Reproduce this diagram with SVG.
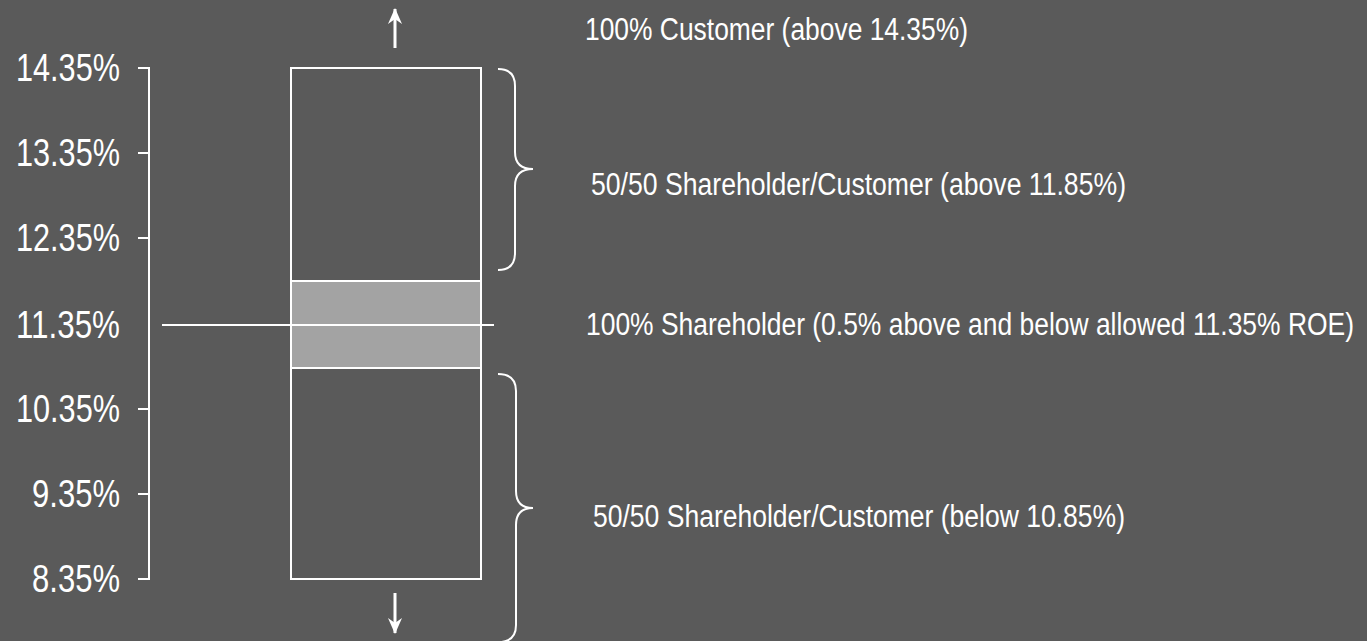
<svg xmlns="http://www.w3.org/2000/svg" width="1367" height="641" viewBox="0 0 1367 641">
  <style>
    .ln { stroke: #ffffff; stroke-width: 2; fill: none; }
    .arrow { stroke: #ffffff; stroke-width: 3; fill: none; }
    .ax { font-family: "Liberation Sans Narrow", "Liberation Sans", Arial, sans-serif; font-size: 38px; fill: #ffffff; text-anchor: end; }
    .lb { font-family: "Liberation Sans Narrow", "Liberation Sans", Arial, sans-serif; font-size: 31px; fill: #ffffff; }
  </style>
  <defs>
    <!-- arrowhead drawn pointing along +x so orient="auto" follows the line -->
    <marker id="head" viewBox="0 0 16 14" refX="15" refY="7" markerWidth="16" markerHeight="14" markerUnits="userSpaceOnUse" orient="auto">
      <path d="M16 7 L0 0 L5 7 L0 14 Z" fill="#ffffff"/>
    </marker>
  </defs>

  <rect width="1367" height="641" fill="#5a5a5a"/>

  <!-- ROE scale -->
  <g id="axis">
    <path class="ln" d="M149 68 V579 M138 68 H150 M138 153 H150 M138 238 H150 M138 409 H150 M138 494 H150 M138 579 H150"/>
    <text class="ax" x="120" y="81" textLength="104" lengthAdjust="spacingAndGlyphs">14.35%</text>
    <text class="ax" x="120" y="166" textLength="104" lengthAdjust="spacingAndGlyphs">13.35%</text>
    <text class="ax" x="120" y="251" textLength="104" lengthAdjust="spacingAndGlyphs">12.35%</text>
    <text class="ax" x="120" y="338" textLength="104" lengthAdjust="spacingAndGlyphs">11.35%</text>
    <text class="ax" x="120" y="422" textLength="104" lengthAdjust="spacingAndGlyphs">10.35%</text>
    <text class="ax" x="120" y="507" textLength="88" lengthAdjust="spacingAndGlyphs">9.35%</text>
    <text class="ax" x="120" y="592" textLength="88" lengthAdjust="spacingAndGlyphs">8.35%</text>
  </g>

  <!-- sharing bands -->
  <g id="bar">
    <rect class="ln" x="291" y="68" width="190" height="511"/>
    <rect x="291" y="281" width="190" height="87" fill="#a3a3a3" stroke="#ffffff" stroke-width="2"/>
    <path class="ln" d="M162 325 H494"/>
  </g>

  <!-- braces -->
  <g id="brace-upper">
    <path class="ln" d="M498 69 Q515 69 515 86 L515 152 Q515 169 533 169 Q515 169 515 186 L515 253 Q515 270 498 270"/>
  </g>
  <g id="brace-lower">
    <path class="ln" d="M498 374 Q516 374 516 391 L516 491 Q516 508 533 508 Q516 508 516 525 L516 625 Q516 642 498 642"/>
  </g>

  <!-- connectors -->
  <g id="connectors">
    <path class="arrow" d="M395 48 V9" marker-end="url(#head)"/>
    <path class="arrow" d="M395 593 V633" marker-end="url(#head)"/>
  </g>

  <!-- labels -->
  <g id="label-customer">
    <text class="lb" x="585" y="40" textLength="383" lengthAdjust="spacingAndGlyphs">100% Customer (above 14.35%)</text>
  </g>
  <g id="label-split-above">
    <text class="lb" x="591" y="195" textLength="535" lengthAdjust="spacingAndGlyphs">50/50 Shareholder/Customer (above 11.85%)</text>
  </g>
  <g id="label-shareholder">
    <text class="lb" x="586" y="335" textLength="768" lengthAdjust="spacingAndGlyphs">100% Shareholder (0.5% above and below allowed 11.35% ROE)</text>
  </g>
  <g id="label-split-below">
    <text class="lb" x="593" y="527" textLength="532" lengthAdjust="spacingAndGlyphs">50/50 Shareholder/Customer (below 10.85%)</text>
  </g>
</svg>
